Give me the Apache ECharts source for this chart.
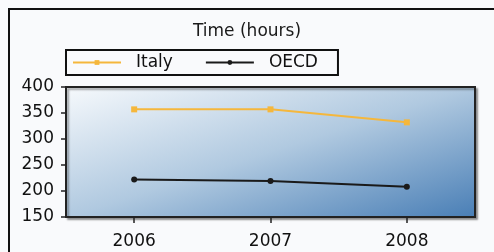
<!DOCTYPE html>
<html><head><meta charset="utf-8">
<script src="https://cdn.jsdelivr.net/npm/echarts@6/dist/echarts.min.js"></script>
<style>html,body{margin:0;padding:0;background:#f9fafc;overflow:hidden;}#c{width:494px;height:252px;}</style>
</head><body><div id="c"></div>
<script>
const categories = ['2006', '2007', '2008'];
const italy = [357, 357, 332];
const oecd = [222, 219, 208];
const yTicks = { min: 150, max: 400, interval: 50 };
const titleText = 'Time (hours)';
const seriesNames = ['Italy', 'OECD'];

const FONT = 'DejaVu Sans';
const chart = echarts.init(document.getElementById('c'), null, { renderer: 'canvas' });
chart.setOption({
  backgroundColor: '#f9fafc',
  animation: false,
  graphic: [{
    type: 'polyline', z: -1,
    shape: { points: [[9, 300], [9, 9], [600, 9]] },
    style: { fill: null, stroke: '#111', lineWidth: 2 }
  }],
  title: {
    text: titleText, left: 'center', top: 18,
    textStyle: { fontFamily: FONT, fontSize: 17, fontWeight: 'normal', color: '#1a1a1a' }
  },
  legend: {
    left: 66, top: 50, padding: [4, 20, 4, 6],
    borderColor: '#111', borderWidth: 2, borderRadius: 0,
    itemWidth: 48, itemHeight: 6, itemGap: 32,
    textStyle: { fontFamily: FONT, fontSize: 17, color: '#111', padding: [0, 0, 0, 10] },
    data: seriesNames
  },
  grid: {
    left: 66, top: 87, right: 19, bottom: 35, show: true,
    borderColor: '#222', borderWidth: 2,
    shadowColor: 'rgba(0,0,0,0.35)', shadowOffsetX: 2, shadowOffsetY: 2, shadowBlur: 2,
    backgroundColor: new echarts.graphic.LinearGradient(232, 34, 308, 270, [
      { offset: 0, color: '#f6f9fc' },
      { offset: 0.5, color: '#b0c9e0' },
      { offset: 1, color: '#4a7fb6' }
    ], true)
  },
  xAxis: {
    type: 'category', data: categories, boundaryGap: true,
    axisLine: { show: true, lineStyle: { color: '#222', width: 2 } },
    axisTick: { show: true, alignWithLabel: true, length: 6, lineStyle: { color: '#222', width: 1.5 } },
    axisLabel: { fontFamily: FONT, fontSize: 17, color: '#111', margin: 16 },
    splitLine: { show: false }
  },
  yAxis: {
    type: 'value', min: yTicks.min, max: yTicks.max, interval: yTicks.interval,
    axisLine: { show: true, lineStyle: { color: '#222', width: 2 } },
    axisTick: { show: true, length: 5, lineStyle: { color: '#222', width: 1.5 } },
    axisLabel: { fontFamily: FONT, fontSize: 17, color: '#111', margin: 12 },
    splitLine: { show: false }
  },
  series: [
    { name: seriesNames[0], type: 'line', data: italy, color: '#f5b73c',
      symbol: 'rect', symbolSize: 6, lineStyle: { width: 2 } },
    { name: seriesNames[1], type: 'line', data: oecd, color: '#1a1a1a',
      symbol: 'circle', symbolSize: 6, lineStyle: { width: 2 } }
  ]
});
</script></body></html>
